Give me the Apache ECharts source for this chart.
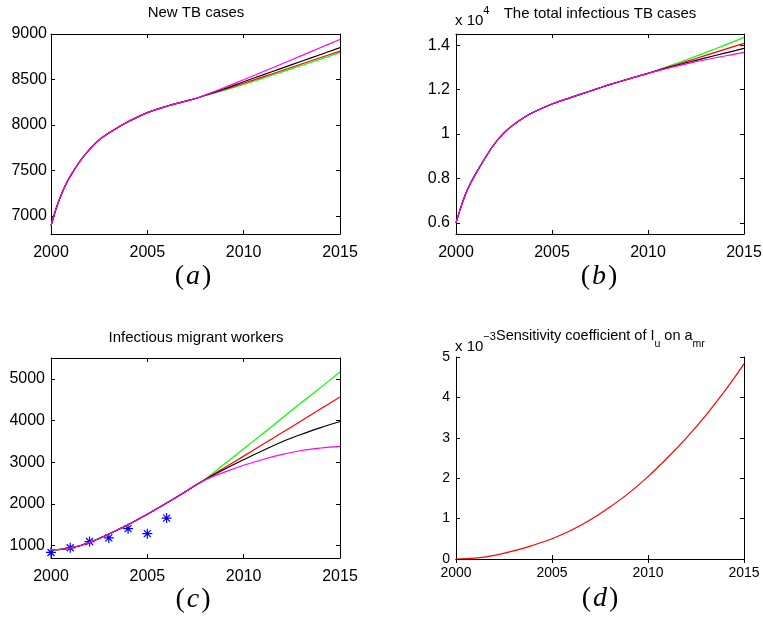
<!DOCTYPE html>
<html>
<head>
<meta charset="utf-8" />
<title>TB model</title>
<script src="https://cdn.jsdelivr.net/npm/echarts@6.0.0/dist/echarts.min.js"></script>
<style>body{margin:0;padding:0;background:#fff}</style>
</head>
<body>
<div id="chart" style="width:763px;height:617px"></div>
<script>
// time points of the model curves
var t = [2000, 2000.25, 2000.5, 2000.75, 2001, 2001.5, 2002, 2002.5, 2003, 2003.5, 2004, 2005, 2006, 2007, 2007.5, 2008, 2009, 2010, 2011, 2012, 2013, 2014, 2015];
var years = [2000, 2001, 2002, 2003, 2004, 2005, 2006, 2007, 2008, 2009, 2010, 2011, 2012, 2013, 2014, 2015];

// (a) new TB cases
var newGreen   = [6890, 7070, 7215, 7335, 7435, 7600, 7730, 7835, 7910, 7975, 8035, 8135, 8205, 8262, 8290, 8322, 8382, 8445, 8514, 8584, 8654, 8724, 8795];
var newRed     = [6890, 7070, 7215, 7335, 7435, 7600, 7730, 7835, 7910, 7975, 8035, 8135, 8205, 8262, 8290, 8324, 8390, 8458, 8528, 8598, 8670, 8741, 8812];
var newBlack   = [6890, 7070, 7215, 7335, 7435, 7600, 7730, 7835, 7910, 7975, 8035, 8135, 8205, 8262, 8290, 8326, 8398, 8475, 8550, 8625, 8700, 8775, 8850];
var newMagenta = [6890, 7070, 7215, 7335, 7435, 7600, 7730, 7835, 7910, 7975, 8035, 8135, 8205, 8262, 8290, 8328, 8410, 8497, 8585, 8673, 8762, 8851, 8940];

// (b) total infectious TB cases
var totGreen   = [6000, 6700, 7300, 7770, 8170, 8900, 9550, 10050, 10420, 10720, 10965, 11350, 11650, 11935, 12080, 12220, 12480, 12730, 13030, 13340, 13660, 14000, 14350];
var totRed     = [6000, 6700, 7300, 7770, 8170, 8900, 9550, 10050, 10420, 10720, 10965, 11350, 11650, 11935, 12080, 12220, 12480, 12730, 12995, 13265, 13535, 13810, 14080];
var totBlack   = [6000, 6700, 7300, 7770, 8170, 8900, 9550, 10050, 10420, 10720, 10965, 11350, 11650, 11935, 12080, 12220, 12480, 12730, 12975, 13205, 13425, 13640, 13850];
var totMagenta = [6000, 6700, 7300, 7770, 8170, 8900, 9550, 10050, 10420, 10720, 10965, 11350, 11650, 11935, 12080, 12220, 12480, 12730, 12955, 13155, 13340, 13510, 13670];

// (c) infectious migrant workers
var migGreen   = [900, 900, 905, 918, 940, 995, 1075, 1170, 1275, 1385, 1500, 1750, 2020, 2300, 2445, 2590, 2955, 3320, 3690, 4060, 4430, 4795, 5164];
var migRed     = [900, 900, 905, 918, 940, 995, 1075, 1170, 1275, 1385, 1500, 1750, 2020, 2300, 2445, 2585, 2865, 3145, 3430, 3710, 3995, 4280, 4563];
var migBlack   = [900, 900, 905, 918, 940, 995, 1075, 1170, 1275, 1385, 1500, 1750, 2020, 2300, 2445, 2580, 2830, 3060, 3280, 3490, 3670, 3830, 3976];
var migMagenta = [900, 900, 905, 918, 940, 995, 1075, 1170, 1275, 1385, 1500, 1750, 2020, 2300, 2445, 2575, 2760, 2925, 3065, 3185, 3280, 3340, 3378];
var dataYears = [2000, 2001, 2002, 2003, 2004, 2005, 2006];
var dataCases = [833, 945, 1095, 1183, 1404, 1285, 1658];

// (d) sensitivity coefficient, in units of 1e-3
var sensE3 = [0, 0.02, 0.09, 0.2, 0.34, 0.5, 0.71, 0.97, 1.28, 1.63, 2.04, 2.5, 3.0, 3.55, 4.16, 4.83];

// tick labels
var yTicksA = [7000, 7500, 8000, 8500, 9000];
var yTicksB = [6000, 8000, 10000, 12000, 14000];
var yTicksC = [1000, 2000, 3000, 4000, 5000];

var FONT = 'Liberation Sans, Arial, Helvetica, sans-serif';
var SERIF = 'Liberation Serif, Times New Roman, serif';

function pairs(xs, ys) {
    var out = [];
    for (var i = 0; i < xs.length; i++) out.push([xs[i], ys[i]]);
    return out;
}

function xAxes(gi, fontSize, margin) {
    var bottom = {
        type: 'value', gridIndex: gi, position: 'bottom', min: 2000, max: 2015, interval: 5,
        axisLine: { lineStyle: { color: '#000', width: 1 } },
        axisTick: { inside: true, length: 4, lineStyle: { color: '#000' } },
        axisLabel: { fontSize: fontSize, fontFamily: FONT, color: '#000', margin: margin,
            formatter: function (v) { return String(v); } },
        splitLine: { show: false }
    };
    var top = {
        type: 'value', gridIndex: gi, position: 'top', min: 2000, max: 2015, interval: 5,
        axisLine: { lineStyle: { color: '#000', width: 1 } },
        axisTick: { inside: true, length: 4, lineStyle: { color: '#000' } },
        axisLabel: { show: false },
        splitLine: { show: false }
    };
    return [bottom, top];
}

function yAxes(gi, min, max, ticks, fmt, fontSize, margin) {
    var out = [];
    ['left', 'right'].forEach(function (pos) {
        var tick = { inside: true, length: 4, lineStyle: { color: '#000' } };
        var label = { show: pos === 'left', fontSize: fontSize, fontFamily: FONT, color: '#000',
            margin: margin, formatter: fmt };
        if (ticks) {
            tick.customValues = ticks;
            label.customValues = ticks;
        }
        var ax = {
            type: 'value', gridIndex: gi, position: pos, min: min, max: max,
            axisLine: { show: true, lineStyle: { color: '#000', width: 1 } },
            axisTick: tick, axisLabel: label, splitLine: { show: false }
        };
        if (!ticks) ax.interval = 1;
        out.push(ax);
    });
    return out;
}

function line(xi, yi, xsData, data, color) {
    return {
        type: 'line', xAxisIndex: xi, yAxisIndex: yi, data: pairs(xsData, data),
        showSymbol: false, smooth: 0.4,
        lineStyle: { color: color, width: 1.2 }, itemStyle: { color: color },
        animation: false, silent: true
    };
}

var chart = echarts.init(document.getElementById('chart'));

var xs = [].concat(xAxes(0, 16, 11), xAxes(1, 16, 11), xAxes(2, 16, 11), xAxes(3, 14, 7));
var ys = [].concat(
    yAxes(0, 6800, 9000, yTicksA, function (v) { return String(v); }, 16, 4),
    yAxes(1, 5500, 14500, yTicksB, function (v) { return String(Math.round(v / 1000) / 10); }, 16, 6),
    yAxes(2, 700, 5500, yTicksC, function (v) { return String(v); }, 16, 6),
    yAxes(3, 0, 5, null, function (v) { return String(v); }, 14, 6)
);

var series = [
    line(0, 0, t, newGreen, '#00ff00'), line(0, 0, t, newRed, '#ff0000'),
    line(0, 0, t, newBlack, '#000000'), line(0, 0, t, newMagenta, '#ff00ff'),
    line(2, 2, t, totGreen, '#00ff00'), line(2, 2, t, totRed, '#ff0000'),
    line(2, 2, t, totBlack, '#000000'), line(2, 2, t, totMagenta, '#ff00ff'),
    line(4, 4, t, migGreen, '#00ff00'), line(4, 4, t, migRed, '#ff0000'),
    line(4, 4, t, migBlack, '#000000'), line(4, 4, t, migMagenta, '#ff00ff'),
    {
        type: 'scatter', xAxisIndex: 4, yAxisIndex: 4, data: pairs(dataYears, dataCases),
        symbol: 'path://M0,-10L0,10M-10,0L10,0M-7,-7L7,7M-7,7L7,-7', symbolSize: 10,
        itemStyle: { color: 'none', borderColor: '#0000ff', borderWidth: 1.2, opacity: 1 },
        animation: false, silent: true
    },
    line(6, 6, years, sensE3, '#ff0000')
];

function txt(x, y, text, size, align) {
    return { type: 'text', x: x, y: y, silent: true,
        style: { text: text, fontSize: size, fontFamily: FONT, fill: '#000',
            align: align || 'center', verticalAlign: 'middle' } };
}
function panelLabel(x, y, letter) {
    return { type: 'text', x: x, y: y, silent: true,
        style: { text: '{p|(}{i|' + letter + '}{p|)}', align: 'center', verticalAlign: 'middle',
            rich: {
                p: { fontFamily: SERIF, fontSize: 28, fill: '#000' },
                i: { fontFamily: SERIF, fontSize: 28, fontStyle: 'italic', fill: '#000', padding: [0, 2, 0, 2] }
            } } };
}
function expLabel(x, y, exp) {
    return { type: 'text', x: x, y: y, silent: true,
        style: { text: '{n|x 10}{p|' + exp + '}', align: 'left', verticalAlign: 'top',
            rich: {
                n: { fontFamily: FONT, fontSize: 15, lineHeight: 16, padding: [8, 0, 0, 0], verticalAlign: 'top', fill: '#000' },
                p: { fontFamily: FONT, fontSize: 11, lineHeight: 11, verticalAlign: 'top', fill: '#000' }
            } } };
}

var graphics = [
    txt(196, 13, 'New TB cases', 15),
    txt(600, 14, 'The total infectious TB cases', 15),
    expLabel(455, 5, '4'),
    txt(196, 338, 'Infectious migrant workers', 15),
    expLabel(455, 331, '\u22123'),
    { type: 'text', x: 496, y: 328, silent: true,
        style: { text: '{m|Sensitivity coefficient of I}{s|u}{m| on a}{s|mr}', align: 'left', verticalAlign: 'top',
            rich: {
                m: { fontFamily: FONT, fontSize: 14.5, lineHeight: 18, verticalAlign: 'top', fill: '#000' },
                s: { fontFamily: FONT, fontSize: 10.5, lineHeight: 12, padding: [11, 0, 0, 0], verticalAlign: 'top', fill: '#000' }
            } } },
    panelLabel(193, 277, 'a'),
    panelLabel(599, 277, 'b'),
    panelLabel(193, 600, 'c'),
    panelLabel(600, 599, 'd')
];

chart.setOption({
    backgroundColor: '#fff',
    animation: false,
    grid: [
        { left: 51, top: 34, width: 289, height: 200, outerBoundsMode: 'none' },
        { left: 456, top: 34, width: 288, height: 200, outerBoundsMode: 'none' },
        { left: 51, top: 358, width: 289, height: 200, outerBoundsMode: 'none' },
        { left: 456, top: 357, width: 288, height: 202, outerBoundsMode: 'none' }
    ],
    xAxis: xs,
    yAxis: ys,
    series: series,
    graphic: graphics
});
</script>
</body>
</html>
